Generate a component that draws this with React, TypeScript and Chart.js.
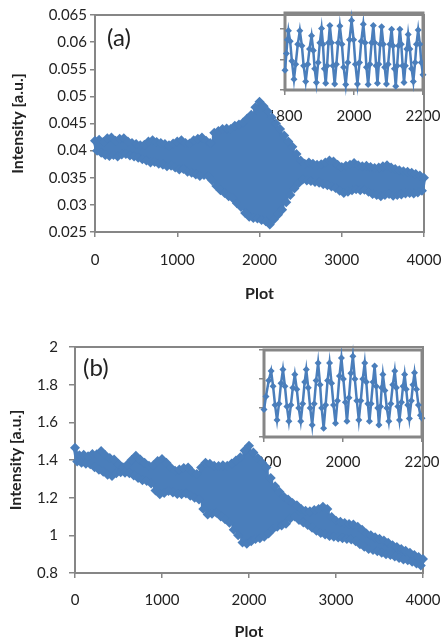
import React, { useEffect, useRef } from 'react';
import { Chart, registerables } from 'chart.js';

Chart.register(...registerables);

// ---------- data ----------
const plotStep = 25; // sampling step of the main series (Plot units)

// Panel (a): intensity, alternating upper / lower swing every 25 plots, 0..4000
const intensityA = [
  0.0418, 0.0400, 0.0420, 0.0396, 0.0416, 0.0392, 0.0423, 0.0390, 0.0424, 0.0392,
  0.0418, 0.0389, 0.0422, 0.0393, 0.0423, 0.0394, 0.0417, 0.0391, 0.0414, 0.0389,
  0.0412, 0.0387, 0.0410, 0.0384, 0.0411, 0.0382, 0.0417, 0.0378, 0.0419, 0.0379,
  0.0416, 0.0376, 0.0414, 0.0374, 0.0412, 0.0371, 0.0410, 0.0372, 0.0413, 0.0369,
  0.0417, 0.0365, 0.0419, 0.0366, 0.0414, 0.0361, 0.0413, 0.0359, 0.0419, 0.0356,
  0.0422, 0.0353, 0.0424, 0.0355, 0.0418, 0.0353, 0.0414, 0.0345, 0.0433, 0.0335,
  0.0436, 0.0327, 0.0440, 0.0322, 0.0441, 0.0316, 0.0440, 0.0312, 0.0446, 0.0303,
  0.0448, 0.0296, 0.0452, 0.0285, 0.0459, 0.0278, 0.0466, 0.0276, 0.0480, 0.0275,
  0.0490, 0.0272, 0.0482, 0.0270, 0.0472, 0.0264, 0.0461, 0.0273, 0.0450, 0.0282,
  0.0440, 0.0291, 0.0428, 0.0305, 0.0417, 0.0318, 0.0407, 0.0330, 0.0394, 0.0340,
  0.0382, 0.0347, 0.0376, 0.0345, 0.0378, 0.0344, 0.0376, 0.0342, 0.0374, 0.0341,
  0.0375, 0.0338, 0.0378, 0.0336, 0.0382, 0.0334, 0.0380, 0.0331, 0.0374, 0.0326,
  0.0370, 0.0322, 0.0372, 0.0324, 0.0374, 0.0327, 0.0377, 0.0329, 0.0373, 0.0327,
  0.0371, 0.0328, 0.0372, 0.0324, 0.0370, 0.0320, 0.0368, 0.0318, 0.0369, 0.0316,
  0.0371, 0.0318, 0.0373, 0.0320, 0.0369, 0.0317, 0.0366, 0.0318, 0.0364, 0.0319,
  0.0362, 0.0321, 0.0361, 0.0322, 0.0359, 0.0321, 0.0357, 0.0323, 0.0354, 0.0326,
  0.0350,
];

// Panel (b)
const intensityB = [
  1.465, 1.392, 1.425, 1.385, 1.428, 1.380, 1.420, 1.377, 1.432, 1.362,
  1.430, 1.348, 1.448, 1.338, 1.425, 1.322, 1.410, 1.315, 1.402, 1.330,
  1.380, 1.335, 1.362, 1.332, 1.375, 1.330, 1.400, 1.318, 1.423, 1.305,
  1.402, 1.292, 1.385, 1.288, 1.370, 1.275, 1.372, 1.238, 1.395, 1.218,
  1.405, 1.225, 1.385, 1.235, 1.360, 1.228, 1.343, 1.220, 1.350, 1.218,
  1.358, 1.222, 1.360, 1.210, 1.335, 1.200, 1.326, 1.190, 1.360, 1.140,
  1.385, 1.110, 1.380, 1.115, 1.370, 1.120, 1.368, 1.100, 1.372, 1.085,
  1.370, 1.067, 1.382, 1.030, 1.398, 1.000, 1.414, 0.962, 1.450, 0.955,
  1.476, 0.968, 1.440, 0.980, 1.410, 0.985, 1.385, 0.992, 1.360, 1.010,
  1.305, 1.033, 1.260, 1.045, 1.232, 1.052, 1.205, 1.062, 1.190, 1.090,
  1.172, 1.100, 1.160, 1.082, 1.140, 1.068, 1.131, 1.055, 1.128, 1.040,
  1.135, 1.025, 1.140, 1.012, 1.152, 1.005, 1.140, 0.996, 1.098, 0.992,
  1.078, 0.988, 1.072, 0.984, 1.065, 0.980, 1.060, 0.978, 1.058, 0.968,
  1.045, 0.952, 1.030, 0.940, 1.010, 0.928, 1.000, 0.922, 0.990, 0.915,
  0.982, 0.908, 0.972, 0.900, 0.960, 0.896, 0.948, 0.888, 0.938, 0.880,
  0.928, 0.872, 0.918, 0.868, 0.908, 0.860, 0.896, 0.850, 0.885, 0.840,
  0.874,
];

// Inset (a): 1800..2200
const insetPlotA = [
  1800, 1804, 1807, 1810, 1815, 1820, 1826, 1831, 1837, 1843,
  1849, 1854, 1860, 1866, 1871, 1877, 1882, 1886, 1891, 1896,
  1901, 1906, 1910, 1914, 1918, 1922, 1926, 1930, 1935, 1939,
  1944, 1949, 1954, 1959, 1965, 1970, 1976, 1982, 1987, 1993,
  1999, 2004, 2010, 2016, 2021, 2027, 2032, 2036, 2041, 2046,
  2051, 2056, 2060, 2064, 2068, 2072, 2076, 2080, 2085, 2089,
  2094, 2099, 2104, 2109, 2113, 2117, 2121, 2125, 2129, 2133,
  2137, 2141, 2145, 2149, 2153, 2157, 2162, 2167, 2172, 2177,
  2181, 2186, 2191, 2195, 2200,
];
const insetIntensityA = [
  0.0315, 0.0370, 0.0415, 0.0445, 0.0410, 0.0345, 0.0285, 0.0335, 0.0400, 0.0445,
  0.0395, 0.0330, 0.0278, 0.0335, 0.0385, 0.0428, 0.0380, 0.0320, 0.0275, 0.0340,
  0.0405, 0.0452, 0.0400, 0.0320, 0.0272, 0.0330, 0.0405, 0.0462, 0.0405, 0.0330,
  0.0270, 0.0335, 0.0405, 0.0460, 0.0400, 0.0325, 0.0268, 0.0340, 0.0415, 0.0478,
  0.0415, 0.0335, 0.0270, 0.0340, 0.0410, 0.0466, 0.0405, 0.0325, 0.0268, 0.0335,
  0.0405, 0.0462, 0.0405, 0.0330, 0.0272, 0.0335, 0.0400, 0.0458, 0.0400, 0.0325,
  0.0270, 0.0335, 0.0400, 0.0450, 0.0395, 0.0320, 0.0262, 0.0330, 0.0395, 0.0450,
  0.0400, 0.0330, 0.0275, 0.0330, 0.0385, 0.0432, 0.0385, 0.0320, 0.0278, 0.0340,
  0.0400, 0.0447, 0.0400, 0.0340, 0.0300,
];

// Inset (b): 1800..2200
const insetPlotB = [
  1800, 1805, 1812, 1818, 1823, 1828, 1833, 1838, 1843, 1848,
  1853, 1858, 1863, 1868, 1873, 1878, 1883, 1888, 1893, 1898,
  1903, 1907, 1912, 1917, 1922, 1927, 1932, 1937, 1942, 1946,
  1951, 1956, 1961, 1966, 1971, 1976, 1981, 1986, 1991, 1996,
  2001, 2006, 2010, 2015, 2020, 2025, 2030, 2035, 2040, 2045,
  2050, 2055, 2059, 2063, 2067, 2071, 2076, 2080, 2084, 2088,
  2091, 2095, 2098, 2101, 2106, 2111, 2116, 2121, 2126, 2131,
  2135, 2139, 2143, 2148, 2152, 2156, 2160, 2164, 2168, 2173,
  2177, 2181, 2186, 2191, 2196, 2200,
];
const insetIntensityB = [
  1.090, 1.180, 1.290, 1.355, 1.250, 1.120, 1.017, 1.130, 1.270, 1.365,
  1.250, 1.110, 1.008, 1.120, 1.240, 1.331, 1.230, 1.100, 1.008, 1.130,
  1.280, 1.365, 1.240, 1.100, 0.983, 1.130, 1.290, 1.411, 1.260, 1.100,
  0.960, 1.120, 1.290, 1.411, 1.270, 1.120, 0.995, 1.150, 1.320, 1.445,
  1.300, 1.140, 1.008, 1.170, 1.340, 1.457, 1.300, 1.150, 1.017, 1.150,
  1.300, 1.411, 1.280, 1.130, 1.008, 1.130, 1.280, 1.389, 1.250, 1.100,
  0.983, 1.110, 1.240, 1.331, 1.220, 1.100, 1.008, 1.130, 1.260, 1.355,
  1.240, 1.110, 1.017, 1.140, 1.250, 1.331, 1.230, 1.120, 1.028, 1.150,
  1.260, 1.343, 1.230, 1.120, 1.050, 1.030,
];

const xTicksMain = [0, 1000, 2000, 3000, 4000];
const xTicksInset = [1800, 2000, 2200];
const yTicksA = [0.025, 0.03, 0.035, 0.04, 0.045, 0.05, 0.055, 0.06, 0.065];
const yTicksB = [0.8, 1, 1.2, 1.4, 1.6, 1.8, 2];
const insetYTicksA = [0.025, 0.035, 0.045];
const insetYTicksB = [0.9, 1.1, 1.3, 1.5];

const xTitle = 'Plot';
const yTitle = 'Intensity [a.u.]';

// ---------- styles ----------
const BLUE = '#4a7ebb';
const AXIS = '#868686';
const TEXT = '#222222';
const FONT = "Lato, 'Open Sans', sans-serif";

const framePlugin = {
  id: 'frame',
  beforeDatasetsDraw(chart: any, _a: any, opts: any) {
    const { ctx, chartArea: a } = chart;
    ctx.save();
    ctx.strokeStyle = opts.color;
    ctx.lineWidth = opts.width;
    ctx.strokeRect(a.left, a.top, a.right - a.left, a.bottom - a.top);
    ctx.restore();
  },
};

const panelLabelPlugin = {
  id: 'panelLabel',
  afterDraw(chart: any, _a: any, opts: any) {
    if (!opts || !opts.text) return;
    const { ctx } = chart;
    ctx.save();
    ctx.fillStyle = TEXT;
    ctx.font = `${opts.size}px ${FONT}`;
    ctx.textAlign = 'left';
    ctx.textBaseline = 'middle';
    ctx.fillText(opts.text, opts.x, opts.y);
    ctx.restore();
  },
};

function toPoints(xs: number[], ys: number[]) {
  return ys.map((v, i) => ({ x: xs[i], y: v }));
}

const plain = (v: any) => String(v);

function mainConfig(p: any) {
  return {
    type: 'line',
    data: {
      datasets: [
        {
          data: p.values.map((v: number, i: number) => ({ x: i * plotStep, y: v })),
          borderColor: BLUE,
          backgroundColor: BLUE,
          borderWidth: 4.5,
          borderJoinStyle: 'round',
          pointStyle: 'rectRot',
          pointRadius: 5,
          pointBorderWidth: 0,
          pointBackgroundColor: BLUE,
          tension: 0,
          clip: false,
        },
      ],
    },
    options: {
      animation: false,
      responsive: false,
      events: [],
      layout: { padding: { left: 0, top: p.top, right: p.right, bottom: 0 } },
      plugins: {
        legend: { display: false },
        tooltip: { enabled: false },
        frame: { color: AXIS, width: 2 },
        panelLabel: { text: p.label, x: p.labelX, y: p.labelY, size: 24 },
      },
      scales: {
        x: {
          type: 'linear',
          min: 0,
          max: 4000,
          afterBuildTicks: (s: any) => { s.ticks = xTicksMain.map((v) => ({ value: v })); },
          afterFit: (s: any) => { s.height = p.xHeight; s.paddingLeft = 0; s.paddingRight = 0; },
          border: { display: false },
          grid: { drawOnChartArea: false, drawTicks: true, tickLength: 5, color: AXIS, lineWidth: 1.5 },
          ticks: { color: TEXT, font: { family: FONT, size: 15 }, padding: p.xTickPad, maxRotation: 0, autoSkip: false, callback: plain },
          title: {
            display: true, text: xTitle, color: TEXT,
            font: { family: FONT, size: 16, weight: 'bold', lineHeight: 1 },
            padding: { top: 0, bottom: p.xTitlePad },
          },
        },
        y: {
          type: 'linear',
          min: p.yMin,
          max: p.yMax,
          afterBuildTicks: (s: any) => { s.ticks = p.yTicks.map((v: number) => ({ value: v })); },
          afterFit: (s: any) => { s.width = p.yWidth; s.paddingTop = 0; s.paddingBottom = 0; },
          border: { display: false },
          grid: { drawOnChartArea: false, drawTicks: true, tickLength: p.yTickLen, color: AXIS, lineWidth: 1.5 },
          ticks: { color: TEXT, font: { family: FONT, size: 15 }, padding: p.yTickPad, callback: plain },
          title: {
            display: true, text: yTitle, color: TEXT,
            font: { family: FONT, size: 16, weight: 'bold', lineHeight: 1 },
            padding: { top: p.yTitlePad, bottom: 0 },
          },
        },
      },
    },
    plugins: [framePlugin, panelLabelPlugin],
  };
}

function insetConfig(p: any) {
  return {
    type: 'line',
    data: {
      datasets: [
        {
          data: toPoints(p.xs, p.ys),
          borderColor: BLUE,
          backgroundColor: BLUE,
          borderWidth: 2.5,
          pointStyle: 'rectRot',
          pointRadius: 3.5,
          pointBorderWidth: 0,
          pointBackgroundColor: BLUE,
          tension: 0,
          clip: false,
        },
      ],
    },
    options: {
      animation: false,
      responsive: false,
      events: [],
      layout: { padding: { left: 0, top: p.top, right: p.right, bottom: 0 } },
      plugins: {
        legend: { display: false },
        tooltip: { enabled: false },
        frame: { color: AXIS, width: 3 },
        panelLabel: {},
      },
      scales: {
        x: {
          type: 'linear',
          min: 1800,
          max: 2200,
          afterBuildTicks: (s: any) => { s.ticks = xTicksInset.map((v) => ({ value: v })); },
          afterFit: (s: any) => { s.height = p.xHeight; s.paddingLeft = 0; s.paddingRight = 0; },
          border: { display: false },
          grid: { drawOnChartArea: false, drawTicks: true, tickLength: 5, color: AXIS, lineWidth: 1.5 },
          ticks: { color: TEXT, font: { family: FONT, size: 15 }, padding: p.xTickPad, maxRotation: 0, autoSkip: false, callback: plain },
        },
        y: {
          type: 'linear',
          min: p.yMin,
          max: p.yMax,
          afterBuildTicks: (s: any) => { s.ticks = p.yTicks.map((v: number) => ({ value: v })); },
          afterFit: (s: any) => { s.width = p.yWidth; s.paddingTop = 0; s.paddingBottom = 0; },
          border: { display: false },
          grid: { drawOnChartArea: false, drawTicks: true, tickLength: 5, color: AXIS, lineWidth: 1.5 },
          ticks: { display: false },
        },
      },
    },
    plugins: [framePlugin, panelLabelPlugin],
  };
}

export default function App() {
  const mainARef = useRef<HTMLCanvasElement>(null);
  const mainBRef = useRef<HTMLCanvasElement>(null);
  const insetARef = useRef<HTMLCanvasElement>(null);
  const insetBRef = useRef<HTMLCanvasElement>(null);

  useEffect(() => {
    const charts: Chart[] = [];
    charts.push(new Chart(insetARef.current as any, insetConfig({
      xs: insetPlotA, ys: insetIntensityA, yMin: 0.025, yMax: 0.0503, yTicks: insetYTicksA,
      top: 13, right: 18, yWidth: 35, xHeight: 40, xTickPad: 12.5,
    }) as any));
    charts.push(new Chart(insetBRef.current as any, insetConfig({
      xs: insetPlotB, ys: insetIntensityB, yMin: 0.9, yMax: 1.5, yTicks: insetYTicksB,
      top: 20, right: 19, yWidth: 34, xHeight: 43, xTickPad: 11.5,
    }) as any));
    charts.push(new Chart(mainARef.current as any, mainConfig({
      values: intensityA, yMin: 0.025, yMax: 0.065, yTicks: yTicksA,
      top: 15, right: 17, yWidth: 95, xHeight: 88, yTickLen: 5, yTickPad: 3,
      xTickPad: 14.5, xTitlePad: 18.5, yTitlePad: 10,
      label: '(a)', labelX: 107, labelY: 38,
    }) as any));
    charts.push(new Chart(mainBRef.current as any, mainConfig({
      values: intensityB, yMin: 0.8, yMax: 2, yTicks: yTicksB,
      top: 27, right: 18, yWidth: 75, xHeight: 67, yTickLen: 6, yTickPad: 11,
      xTickPad: 13.5, xTitlePad: 0.5, yTitlePad: 8,
      label: '(b)', labelX: 83, labelY: 48,
    }) as any));
    return () => { charts.forEach((c) => c.destroy()); };
  }, []);

  const abs = (left: number, top: number): React.CSSProperties => ({ position: 'absolute', left, top, display: 'block' });

  return (
    <div style={{ position: 'fixed', left: 0, top: 0, width: 441, height: 640, background: '#ffffff', overflow: 'hidden' }}>
      <canvas ref={insetARef} width={191} height={130} style={abs(250, 0)} />
      <canvas ref={insetBRef} width={211} height={150} style={abs(230, 330)} />
      <canvas ref={mainARef} width={441} height={320} style={abs(0, 0)} />
      <canvas ref={mainBRef} width={441} height={320} style={abs(0, 320)} />
    </div>
  );
}
